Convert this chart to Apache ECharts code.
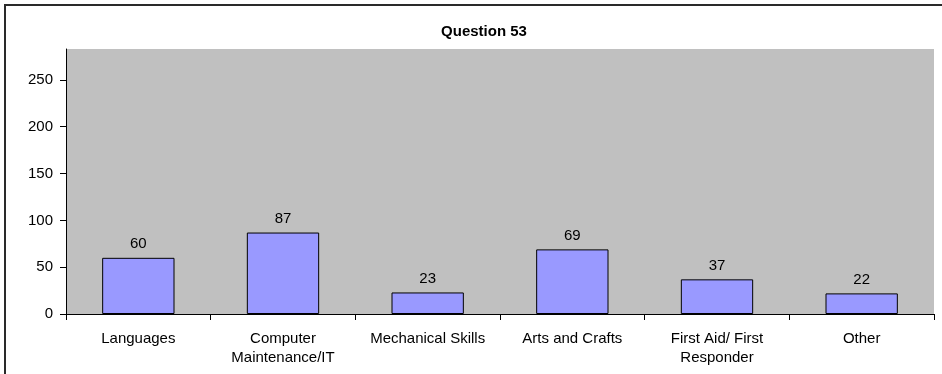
<!DOCTYPE html>
<html>
<head>
<meta charset="utf-8">
<script src="https://cdn.jsdelivr.net/npm/echarts@6/dist/echarts.min.js"></script>
<style>
  html, body { margin: 0; padding: 0; background: #fff; }
  #chart { width: 942px; height: 374px; }
</style>
</head>
<body>
<div id="chart"></div>
<script>
const chartTitle = 'Question 53';
const categories = [
  'Languages',
  'Computer\nMaintenance/IT',
  'Mechanical Skills',
  'Arts and Crafts',
  'First Aid/ First\nResponder',
  'Other'
];
const counts = [60, 87, 23, 69, 37, 22];
const yTicks = [0, 50, 100, 150, 200, 250];
const yMax = 283;

const font = '"Liberation Sans", Arial, sans-serif';
const chart = echarts.init(document.getElementById('chart'), null, { renderer: 'canvas' });

chart.setOption({
  animation: false,
  backgroundColor: '#ffffff',
  title: {
    text: chartTitle,
    left: 479,
    top: 19,
    textAlign: 'center',
    textStyle: { fontFamily: font, fontSize: 15, fontWeight: 'bold', color: '#000' }
  },
  graphic: [{
    type: 'polyline',
    shape: { points: [[5, 374], [5, 5], [942, 5]] },
    style: { stroke: '#2a2a2a', lineWidth: 2, fill: null },
    silent: true
  }],
  grid: {
    left: 66, right: 8, top: 49, bottom: 60,
    show: true, backgroundColor: '#C0C0C0', borderWidth: 0,
    containLabel: false
  },
  xAxis: {
    type: 'category',
    data: categories,
    axisLine: { lineStyle: { color: '#000', width: 1 } },
    axisTick: { show: true, length: 6, alignWithLabel: false, lineStyle: { color: '#000' } },
    axisLabel: {
      interval: 0, margin: 15, color: '#000',
      fontFamily: font, fontSize: 15, lineHeight: 19
    },
    splitLine: { show: false }
  },
  yAxis: {
    type: 'value',
    min: 0, max: yMax, interval: 50,
    axisLine: { show: true, lineStyle: { color: '#000', width: 1 } },
    axisTick: { show: true, length: 6, customValues: yTicks, lineStyle: { color: '#000' } },
    axisLabel: {
      customValues: yTicks, margin: 13, color: '#000',
      fontFamily: font, fontSize: 15
    },
    splitLine: { show: false }
  },
  series: [{
    type: 'bar',
    data: counts,
    barWidth: '50%',
    itemStyle: { color: '#9999FF', borderColor: '#000', borderWidth: 1 },
    label: {
      show: true, position: 'top', distance: 6, color: '#000',
      fontFamily: font, fontSize: 15
    }
  }]
});
</script>
</body>
</html>
